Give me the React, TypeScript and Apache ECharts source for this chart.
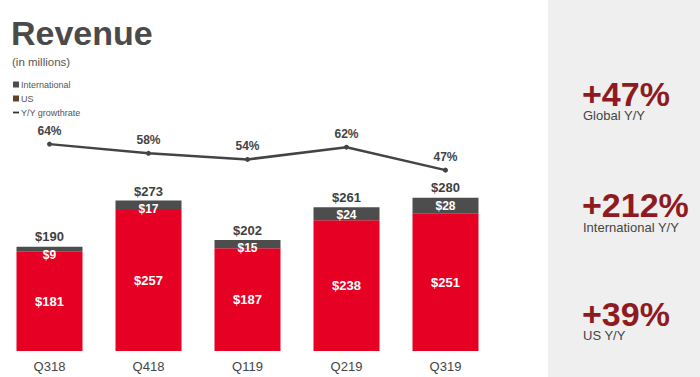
import React, { useEffect, useRef } from "react";
import * as echarts from "echarts";

const categories = ["Q318", "Q418", "Q119", "Q219", "Q319"];
const usRevenue = [181, 257, 187, 238, 251];
const intlRevenue = [9, 17, 15, 24, 28];
const totalRevenue = [190, 273, 202, 261, 280];
const yoyGrowth = [64, 58, 54, 62, 47];

const statValues = ["+47%", "+212%", "+39%"];
const statLabels = ["Global Y/Y", "International Y/Y", "US Y/Y"];

const FONT = "'Liberation Sans', Arial, Helvetica, sans-serif";
const RED = "#e60023";
const GRAY = "#4d4d4d";
const STAT_RED = "#8e1b1f";

export default function App() {
  const ref = useRef<HTMLDivElement>(null);
  useEffect(() => {
    if (!ref.current) return;
    const chart = echarts.init(ref.current, null, { renderer: "svg" });
    const statTops = [80, 191, 300];
    const subCenters = [115.5, 227.5, 335.5];
    const graphics: any[] = [
      { type: "rect", shape: { x: 548, y: 0, width: 152, height: 377 }, style: { fill: "#efefef" }, z: -10 },
      {
        type: "text", x: 11, y: 16,
        style: { text: "Revenue", font: `bold 34px ${FONT}`, fill: "#4a4a4a", textVerticalAlign: "top" },
      },
      {
        type: "text", x: 12, y: 62,
        style: { text: "(in millions)", font: `11.5px ${FONT}`, fill: "#555", textVerticalAlign: "middle" },
      },
    ];
    statValues.forEach((v, i) => {
      graphics.push({
        type: "text", x: 582, y: statTops[i],
        style: {
          text: v, font: `bold 34px ${FONT}`, lineHeight: 28, fill: STAT_RED, textVerticalAlign: "top",
        },
      });
      graphics.push({
        type: "text", x: 583, y: subCenters[i],
        style: { text: statLabels[i], font: `13px ${FONT}`, lineHeight: 12, fill: "#444", textVerticalAlign: "middle" },
      });
    });

    chart.setOption({
      animation: false,
      textStyle: { fontFamily: FONT },
      graphic: graphics,
      legend: {
        orient: "vertical",
        left: 13,
        top: 80,
        padding: 0,
        itemWidth: 6,
        itemHeight: 6,
        itemGap: 5,
        textStyle: { fontSize: 9, color: "#555", fontFamily: FONT, padding: [0, 0, 0, -3] },
        data: [
          { name: "International", icon: "rect" },
          { name: "US", icon: "rect", itemStyle: { color: "#5e4420" } },
          { name: "Y/Y growthrate", icon: "path://M0,0H10V3H0Z", itemStyle: { color: "#333" } },
        ],
      },
      grid: { left: -2, width: 497, top: 110, height: 241 },
      xAxis: {
        type: "category",
        data: categories,
        axisLine: { show: false },
        axisTick: { show: false },
        axisLabel: { color: "#444", fontSize: 13, margin: 9, fontFamily: FONT },
      },
      yAxis: [
        { type: "value", min: 0, max: 439, show: false },
        { type: "value", min: -71.2, max: 86.3, show: false },
      ],
      series: [
        {
          name: "US",
          type: "bar",
          stack: "rev",
          barWidth: 66,
          data: usRevenue,
          itemStyle: { color: RED },
          label: {
            show: true,
            position: "inside",
            formatter: (p: any) => "$" + p.value,
            color: "#fff",
            fontWeight: "bold",
            fontSize: 13,
            fontFamily: FONT,
          },
        },
        {
          name: "International",
          type: "bar",
          stack: "rev",
          barWidth: 66,
          data: intlRevenue,
          itemStyle: { color: GRAY },
          label: {
            show: true,
            position: "insideTop",
            distance: 2,
            formatter: (p: any) => "$" + p.value,
            color: "#fff",
            fontWeight: "bold",
            fontSize: 12,
            fontFamily: FONT,
          },
        },
        {
          name: "Total",
          type: "scatter",
          data: totalRevenue,
          symbolSize: 1,
          silent: true,
          itemStyle: { color: "rgba(0,0,0,0)", opacity: 1 },
          label: {
            show: true,
            position: "top",
            distance: 3,
            formatter: (p: any) => "$" + p.value,
            color: "#3f3f3f",
            fontWeight: "bold",
            fontSize: 13,
            fontFamily: FONT,
          },
        },
        {
          name: "Y/Y growthrate",
          type: "line",
          yAxisIndex: 1,
          data: yoyGrowth,
          symbol: "circle",
          symbolSize: 5,
          lineStyle: { color: "#444", width: 2.5 },
          itemStyle: { color: "#444" },
          label: {
            show: true,
            position: "top",
            distance: 5,
            formatter: (p: any) => p.value + "%",
            color: "#444",
            fontWeight: "bold",
            fontSize: 12,
            fontFamily: FONT,
          },
        },
      ],
    });
    return () => chart.dispose();
  }, []);
  return (
    <div
      ref={ref}
      style={{ position: "fixed", left: 0, top: 0, width: 700, height: 377, background: "#fff" }}
    />
  );
}
